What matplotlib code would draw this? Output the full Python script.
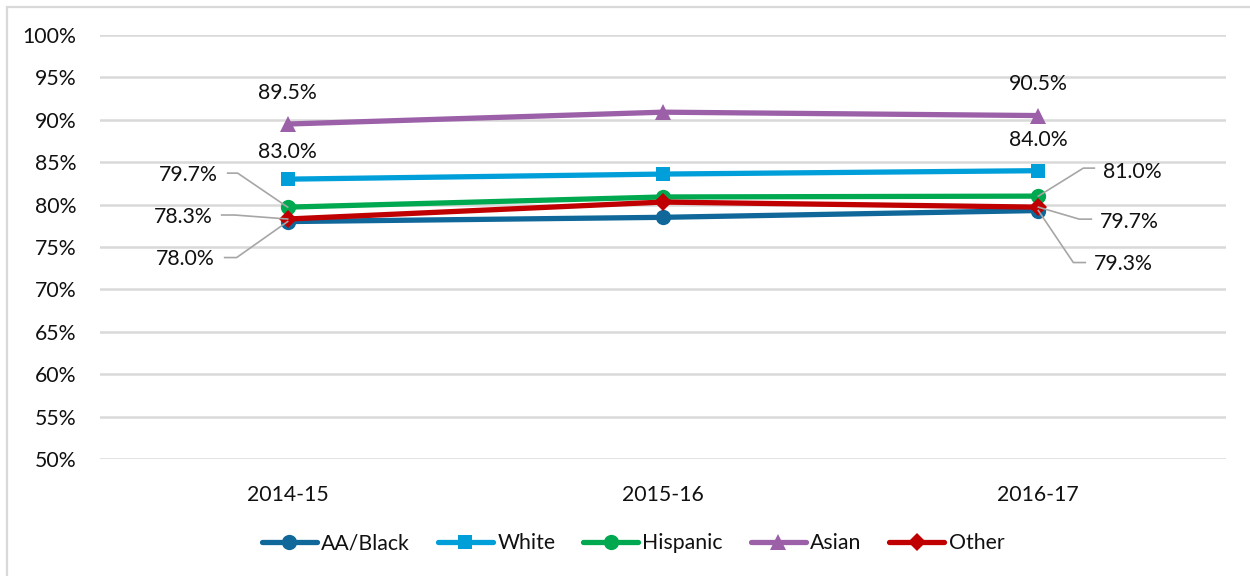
import matplotlib
matplotlib.use("Agg")
import matplotlib.pyplot as plt
from matplotlib.patches import Rectangle

years = ["2014-15", "2015-16", "2016-17"]
series_names = ["AA/Black", "White", "Hispanic", "Asian", "Other"]
aa_black = [78.0, 78.5, 79.3]
white = [83.0, 83.6, 84.0]
hispanic = [79.7, 80.9, 81.0]
asian = [89.5, 90.9, 90.5]
other = [78.3, 80.3, 79.7]
yticks = [50, 55, 60, 65, 70, 75, 80, 85, 90, 95, 100]

colors = ["#10679A", "#009FD9", "#00A94F", "#9B60A8", "#C00000"]
markers = ["o", "s", "o", "^", "D"]
msizes = [11, 10.5, 11, 11.5, 9.5]
values = [aa_black, white, hispanic, asian, other]

plt.rcParams['font.family'] = ['Lato', 'DejaVu Sans']
FS = 15.3
TXT = "#111111"

fig = plt.figure(figsize=(12.5, 5.76), dpi=100)
W, H = 1250, 576
ax = fig.add_axes([100 / W, 1 - 459 / H, 1126 / W, (459 - 35) / H])

x = list(range(len(years)))
for name, vals, c, m, ms in zip(series_names, values, colors, markers, msizes):
    ax.plot(x, vals, color=c, lw=3.8, marker=m, markersize=ms,
            markeredgewidth=0, label=name, solid_capstyle='round', zorder=3)

ax.set_xlim(-0.5, 2.5)
ax.set_ylim(50, 100)
ax.set_yticks(yticks)
ax.set_yticklabels([f"{v}%" for v in yticks])
ax.set_xticks(x)
ax.set_xticklabels(years)
ax.tick_params(axis='both', length=0, labelsize=FS, colors=TXT)
ax.tick_params(axis='y', pad=17)
ax.tick_params(axis='x', pad=19)
for s in ax.spines.values():
    s.set_visible(False)
ax.grid(axis='y', color='#d9d9d9', lw=1.8, zorder=0)
ax.set_axisbelow(True)

fig.canvas.draw()

def px(xi, v):
    dx, dy = ax.transData.transform((xi, v))
    return dx, dy

# labels above points (offset in image pixels, y downward)
above = [(asian, 0, -31), (asian, 2, -32), (white, 0, -27), (white, 2, -31)]
for vals, i, oy in above:
    X0, Y0 = px(i, vals[i])
    fig.text(X0 / W, (Y0 - oy) / H, f"{vals[i]:.1f}%", ha='center', va='center',
             fontsize=FS, color=TXT)

# labels with leader lines: (series, index, [leader vertices offsets], text offset, ha)
leaders = [
    (hispanic, 0, [(-50, -34), (-60, -34)], (-70, -32), 'right'),
    (other, 0, [(-53, -4), (-66, -4)], (-75, -2), 'right'),
    (aa_black, 0, [(-51, 36), (-63, 36)], (-73, 37), 'right'),
    (hispanic, 2, [(45, -28), (56, -28)], (65, -24), 'left'),
    (other, 2, [(41, 12), (53, 12)], (62, 15), 'left'),
    (aa_black, 2, [(35, 52), (47, 52)], (56, 53), 'left'),
]
for vals, i, verts, (tx, ty), ha in leaders:
    X0, Y0 = px(i, vals[i])
    xs = [X0] + [X0 + a for a, b in verts]
    ys = [Y0] + [Y0 - b for a, b in verts]
    fig.add_artist(plt.Line2D([u / W for u in xs], [v / H for v in ys],
                              color='#a6a6a6', lw=1.2, transform=fig.transFigure,
                              zorder=2))
    fig.text((X0 + tx) / W, (Y0 - ty) / H, f"{vals[i]:.1f}%", ha=ha, va='center',
             fontsize=FS, color=TXT)

leg = fig.legend(loc='center', bbox_to_anchor=(633 / W, 1 - 543 / H), ncol=5,
                 frameon=False, fontsize=FS, handlelength=2.6, handletextpad=0.2,
                 columnspacing=1.3, borderaxespad=0)
for t in leg.get_texts():
    t.set_color(TXT)

fig.add_artist(Rectangle((6.5 / W, -0.1), 1.2, 1 - 6.5 / H + 0.1,
                         transform=fig.transFigure, fill=False,
                         edgecolor='#d9d9d9', lw=1.6))

fig.savefig("out.png", dpi=100)
